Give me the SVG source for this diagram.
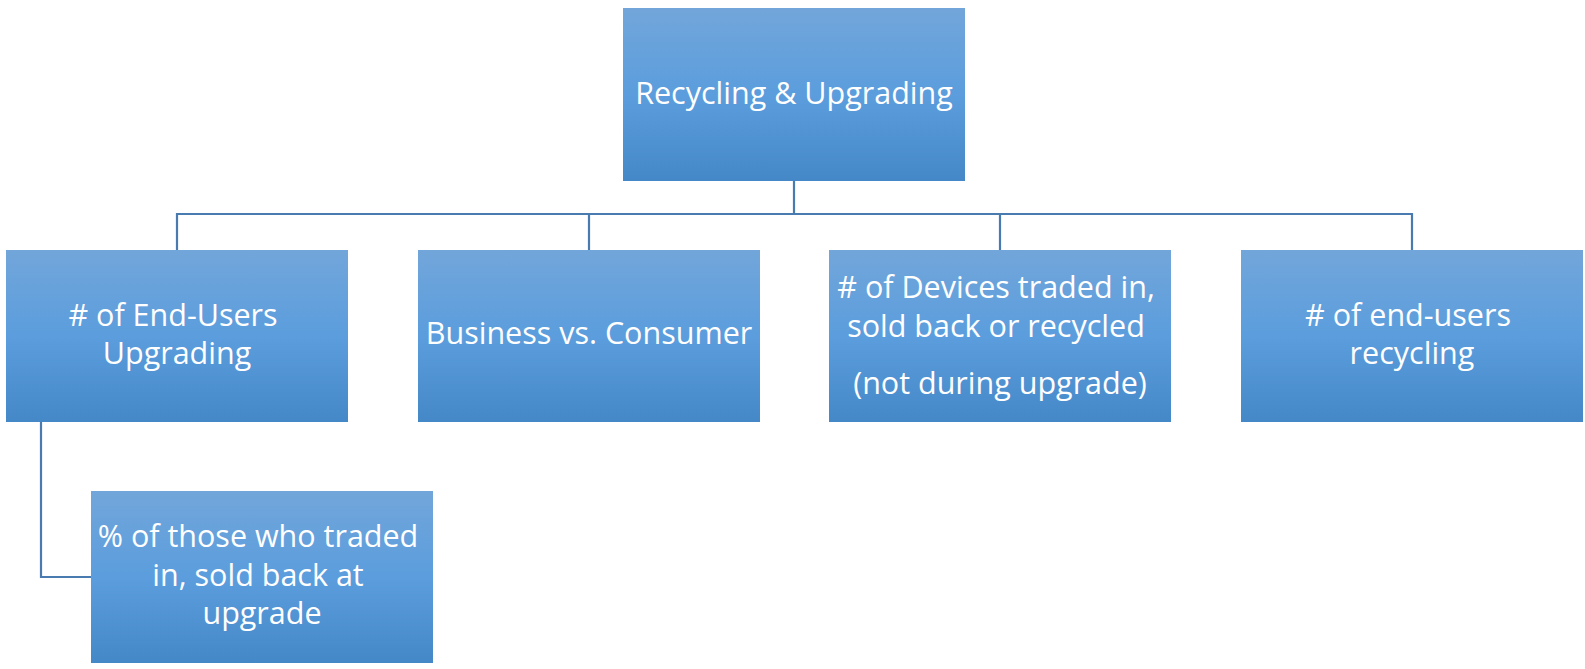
<svg xmlns="http://www.w3.org/2000/svg" width="1585" height="669" viewBox="0 0 1585 669">
<defs>
<linearGradient id="g" x1="0" y1="0" x2="0" y2="1">
<stop offset="0" stop-color="#72a6da"/>
<stop offset="0.5" stop-color="#5b9ddd"/>
<stop offset="1" stop-color="#4588c8"/>
</linearGradient>
</defs>
<style>
.box{fill:url(#g);}
.t{font-family:"Open Sans","Liberation Sans",sans-serif;font-size:30.5px;fill:#ffffff;text-anchor:middle;}
.c{fill:none;stroke:#4a7bb0;stroke-width:2.2;}
</style>
<g id="connectors">
<path class="c" d="M794 181 V214 M177 250 V214 H1412 V250 M589 214 V250 M1000 214 V250"/>
<path class="c" d="M41 422 V577 H91"/>
</g>
<g id="root">
<rect class="box" x="623" y="8" width="342" height="173"/>
<text class="t" x="794" y="104">Recycling &amp; Upgrading</text>
</g>
<g id="n1">
<rect class="box" x="6" y="250" width="342" height="172"/>
<text class="t" x="177" y="326">
<tspan x="177" y="326"># of End-Users</tspan>
<tspan x="177" y="364">Upgrading</tspan>
</text>
</g>
<g id="n2">
<rect class="box" x="418" y="250" width="342" height="172"/>
<text class="t" x="589" y="344">Business vs. Consumer</text>
</g>
<g id="n3">
<rect class="box" x="829" y="250" width="342" height="172"/>
<text class="t">
<tspan x="1000" y="298"># of Devices traded in,</tspan>
<tspan x="1000" y="337">sold back or recycled</tspan>
<tspan x="1000" y="394">(not during upgrade)</tspan>
</text>
</g>
<g id="n4">
<rect class="box" x="1241" y="250" width="342" height="172"/>
<text class="t">
<tspan x="1412" y="326"># of end-users</tspan>
<tspan x="1412" y="364">recycling</tspan>
</text>
</g>
<g id="n5">
<rect class="box" x="91" y="491" width="342" height="172"/>
<text class="t">
<tspan x="262" y="547">% of those who traded</tspan>
<tspan x="262" y="586">in, sold back at</tspan>
<tspan x="262" y="624">upgrade</tspan>
</text>
</g>
</svg>
